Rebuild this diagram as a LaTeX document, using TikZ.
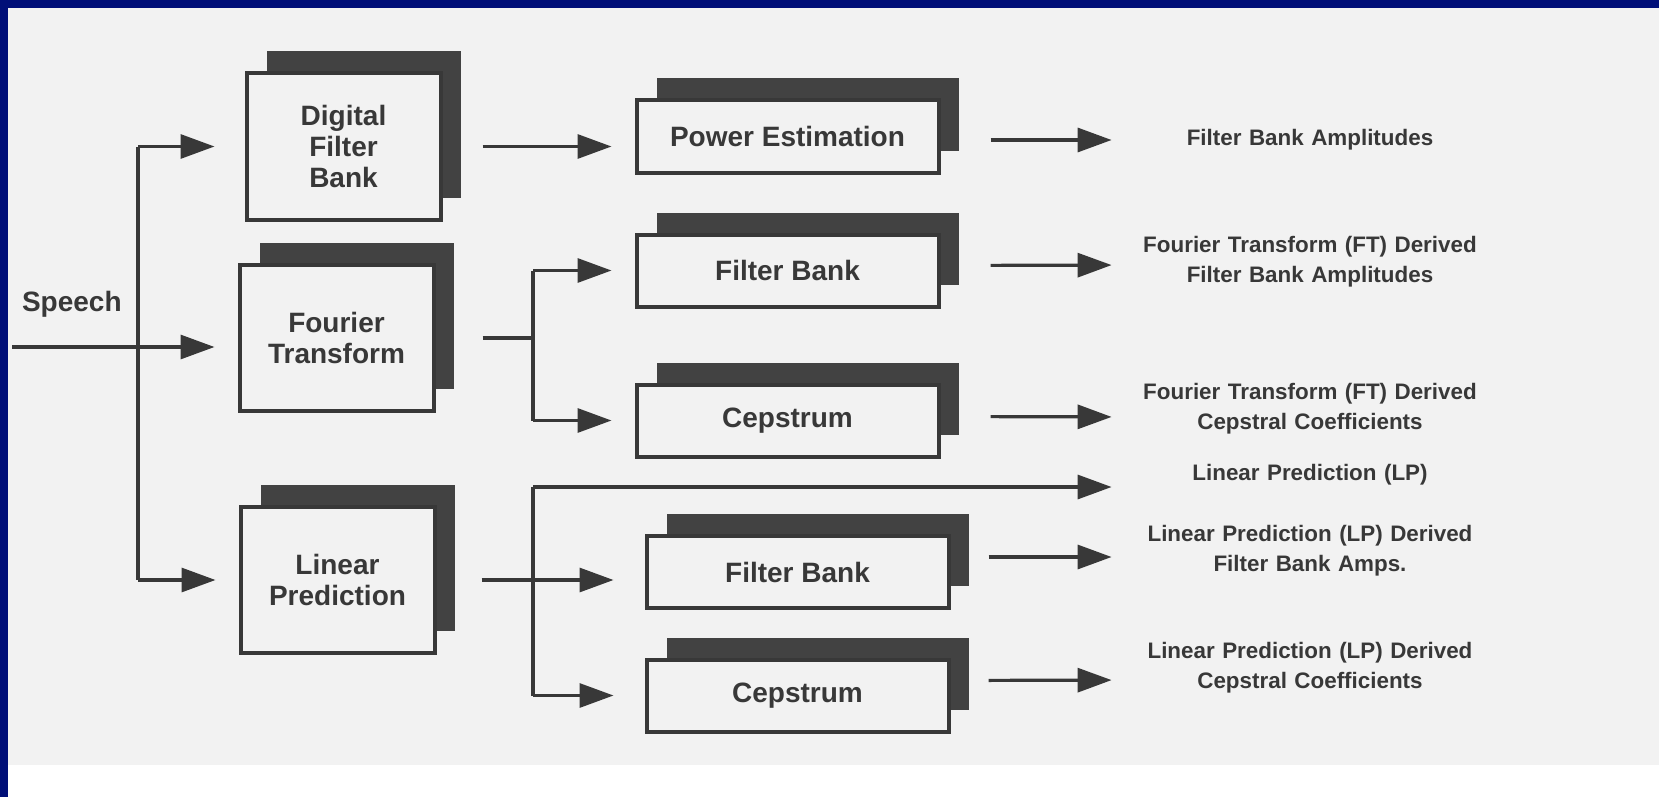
\documentclass[tikz,border=0pt]{standalone}
\usepackage{fontspec}
\setmainfont{Liberation Sans}
\usetikzlibrary{arrows.meta, positioning, shadows, calc}
\definecolor{navyFrame}{HTML}{000F78}
\definecolor{paperGray}{HTML}{F2F2F2}
\definecolor{inkDark}{HTML}{383838}
\definecolor{shadowDark}{HTML}{424242}

\begin{document}
\begin{tikzpicture}[
    x=0.5pt, y=-0.5pt,
    every node/.style={font=\bfseries, text=inkDark},
    block/.style={rectangle, draw=inkDark, line width=2pt, fill=paperGray, align=center, font=\fontsize{14}{15.5}\selectfont\bfseries, general shadow={fill=shadowDark, shadow xshift=10pt, shadow yshift=11pt}},
    tallblock/.style={block, minimum width=97pt, minimum height=73pt},
    wideblock/.style={block, minimum width=151pt, minimum height=36pt},
    output/.style={text width=170pt, align=center, inner sep=0pt, font=\fontsize{11.2}{15}\selectfont\bfseries},
    arrow_main/.style={-{Triangle[length=17pt, width=12pt]}, line width=1.6pt, draw=inkDark},
    line_main/.style={line width=1.6pt, draw=inkDark},
]

% ====== BACKGROUND ======
\fill[navyFrame] (0,0) rectangle (1659,797);
\fill[paperGray] (8,8) rectangle (1659,797);
\fill[white] (8,765) rectangle (1659,797);
\useasboundingbox (0,0) rectangle (1659,797);

% ====== LEFT PART: FRONT ENDS ======
\node[anchor=west, font=\fontsize{14}{15}\selectfont\bfseries] (speech_label) at (15,304) {Speech};
\coordinate (speech_in) at (12,347);
\coordinate (split) at (138,347);

\node[tallblock] (dfb) at (343.5,146.5) {Digital\\Filter\\Bank};
\node[tallblock] (ft) at (336.5,338) {Fourier\\Transform};
\node[tallblock] (lp) at (337.5,580) {Linear\\Prediction};

% ====== MIDDLE PART: SECOND STAGE ======
\node[wideblock] (pe) at (787.5,136.5) {Power Estimation};
\node[wideblock] (fb_ft) at (787.5,270.5) {Filter Bank};
\node[wideblock] (cep_ft) at (787.5,420.5) {Cepstrum};
\node[wideblock] (fb_lp) at (797.5,572) {Filter Bank};
\node[wideblock] (cep_lp) at (797.5,695.5) {Cepstrum};

\coordinate (ft_fork) at (533,338);
\coordinate (lp_fork) at (533,487);

% ====== RIGHT PART: OUTPUTS ======
\node[output] (out_pe) at (1310,140) {Filter Bank Amplitudes};
\node[output] (out_ft_fb) at (1310,262) {Fourier Transform (FT) Derived\\Filter Bank Amplitudes};
\node[output] (out_ft_cep) at (1310,409) {Fourier Transform (FT) Derived\\Cepstral Coefficients};
\node[output] (out_lp) at (1310,475) {Linear Prediction (LP)};
\node[output] (out_lp_fb) at (1310,551) {Linear Prediction (LP) Derived\\Filter Bank Amps.};
\node[output] (out_lp_cep) at (1310,668) {Linear Prediction (LP) Derived\\Cepstral Coefficients};

% --- arrows left ---
\draw[arrow_main, shorten >=11.5pt] (speech_in) -- (speech_in -| ft.west);
\draw[line_main] (split |- dfb) -- (split |- lp);
\draw[arrow_main, shorten >=15pt] (split |- dfb) -- (dfb);
\draw[arrow_main, shorten >=11.5pt] (split |- lp) -- (lp);

% --- arrows middle ---
\draw[arrow_main, shorten <=20pt, shorten >=11.5pt] (dfb.east) -- (dfb.east -| pe.west);
\draw[line_main, shorten <=23.5pt] (ft.east) -- (ft.east -| ft_fork);
\draw[line_main] (ft_fork |- fb_ft) -- (ft_fork |- cep_ft);
\draw[arrow_main, shorten >=11.5pt] (ft_fork |- fb_ft) -- (fb_ft);
\draw[arrow_main, shorten >=11.5pt] (ft_fork |- cep_ft) -- (cep_ft);

\draw[arrow_main, shorten <=22.5pt, shorten >=15.5pt] (lp.east) -- (lp.east -| fb_lp.west);
\draw[line_main] (lp_fork) -- (lp_fork |- cep_lp);
\draw[arrow_main, shorten >=15.5pt] (lp_fork |- cep_lp) -- (cep_lp);
\draw[arrow_main, shorten >=14pt] (lp_fork) -- (lp_fork -| out_lp.west);

% --- arrows right ---
\draw[arrow_main, shorten <=25pt, shorten >=14pt] (pe.east |- out_pe.west) -- (out_pe.west);
\draw[arrow_main, shorten <=25pt, shorten >=14pt] ($(fb_ft.east)+(0,-5)$) -- ($(out_ft_fb.west)+(0,3)$);
\draw[arrow_main, shorten <=25pt, shorten >=14pt] ($(cep_ft.east)+(0,-4)$) -- ($(out_ft_cep.west)+(0,8)$);
\draw[arrow_main, shorten <=19pt, shorten >=14pt] ($(fb_lp.east)+(0,-15)$) -- ($(out_lp_fb.west)+(0,6)$);
\draw[arrow_main, shorten <=19pt, shorten >=14pt] ($(cep_lp.east)+(0,-15)$) -- ($(out_lp_cep.west)+(0,12)$);

\end{tikzpicture}
\end{document}
